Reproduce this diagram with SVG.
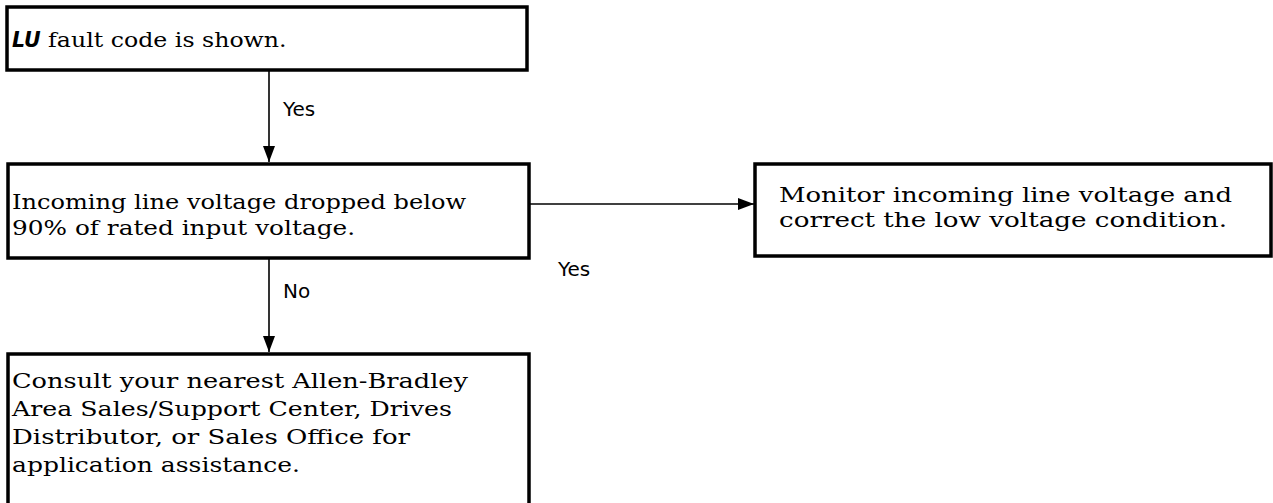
<svg xmlns="http://www.w3.org/2000/svg" width="1273" height="503" viewBox="0 0 1273 503">
<style>
.box{fill:#fff;stroke:#000;stroke-width:3.5}
.t{font-family:"DejaVu Serif","Liberation Serif",serif;font-size:20.5px;fill:#000}
.lbl{font-family:"DejaVu Sans","Liberation Sans",sans-serif;font-size:20px;fill:#000}
.c{stroke:#000;stroke-width:1.6;fill:none}
</style>
<defs>
<marker id="ah" viewBox="0 0 16 12" refX="16" refY="6" markerWidth="16" markerHeight="12" markerUnits="userSpaceOnUse" orient="auto">
<path d="M0,0 L16,6 L0,12 Z" fill="#000"/>
</marker>
</defs>
<rect width="1273" height="503" fill="#fff"/>
<g id="connectors">
<line class="c" x1="269" y1="71" x2="269" y2="162" marker-end="url(#ah)"/>
<line class="c" x1="529" y1="204" x2="754" y2="204" marker-end="url(#ah)"/>
<line class="c" x1="269" y1="259" x2="269" y2="352" marker-end="url(#ah)"/>
<text class="lbl" x="283" y="116">Yes</text>
<text class="lbl" x="558" y="276">Yes</text>
<text class="lbl" x="283" y="298">No</text>
</g>
<g id="n1">
<rect class="box" x="7" y="7" width="520" height="63"/>
<text class="t" x="12" y="47"><tspan font-weight="bold" font-style="italic" font-family="DejaVu Sans, sans-serif">LU</tspan><tspan textLength="246" lengthAdjust="spacingAndGlyphs"> fault code is shown.</tspan></text>
</g>
<g id="n2">
<rect class="box" x="8" y="164" width="521" height="94"/>
<text class="t" x="12" y="209" textLength="454" lengthAdjust="spacingAndGlyphs">Incoming line voltage dropped below</text>
<text class="t" x="12" y="235" textLength="343" lengthAdjust="spacingAndGlyphs">90% of rated input voltage.</text>
</g>
<g id="n3">
<rect class="box" x="755" y="164" width="516" height="92"/>
<text class="t" x="779" y="202" textLength="453" lengthAdjust="spacingAndGlyphs">Monitor incoming line voltage and</text>
<text class="t" x="779" y="227" textLength="448" lengthAdjust="spacingAndGlyphs">correct the low voltage condition.</text>
</g>
<g id="n4">
<rect class="box" x="8" y="354" width="521" height="160"/>
<text class="t" x="12" y="388" textLength="456" lengthAdjust="spacingAndGlyphs">Consult your nearest Allen-Bradley</text>
<text class="t" x="12" y="416" textLength="440" lengthAdjust="spacingAndGlyphs">Area Sales/Support Center, Drives</text>
<text class="t" x="12" y="444" textLength="398" lengthAdjust="spacingAndGlyphs">Distributor, or Sales Office for</text>
<text class="t" x="12" y="472" textLength="288" lengthAdjust="spacingAndGlyphs">application assistance.</text>
</g>
</svg>
